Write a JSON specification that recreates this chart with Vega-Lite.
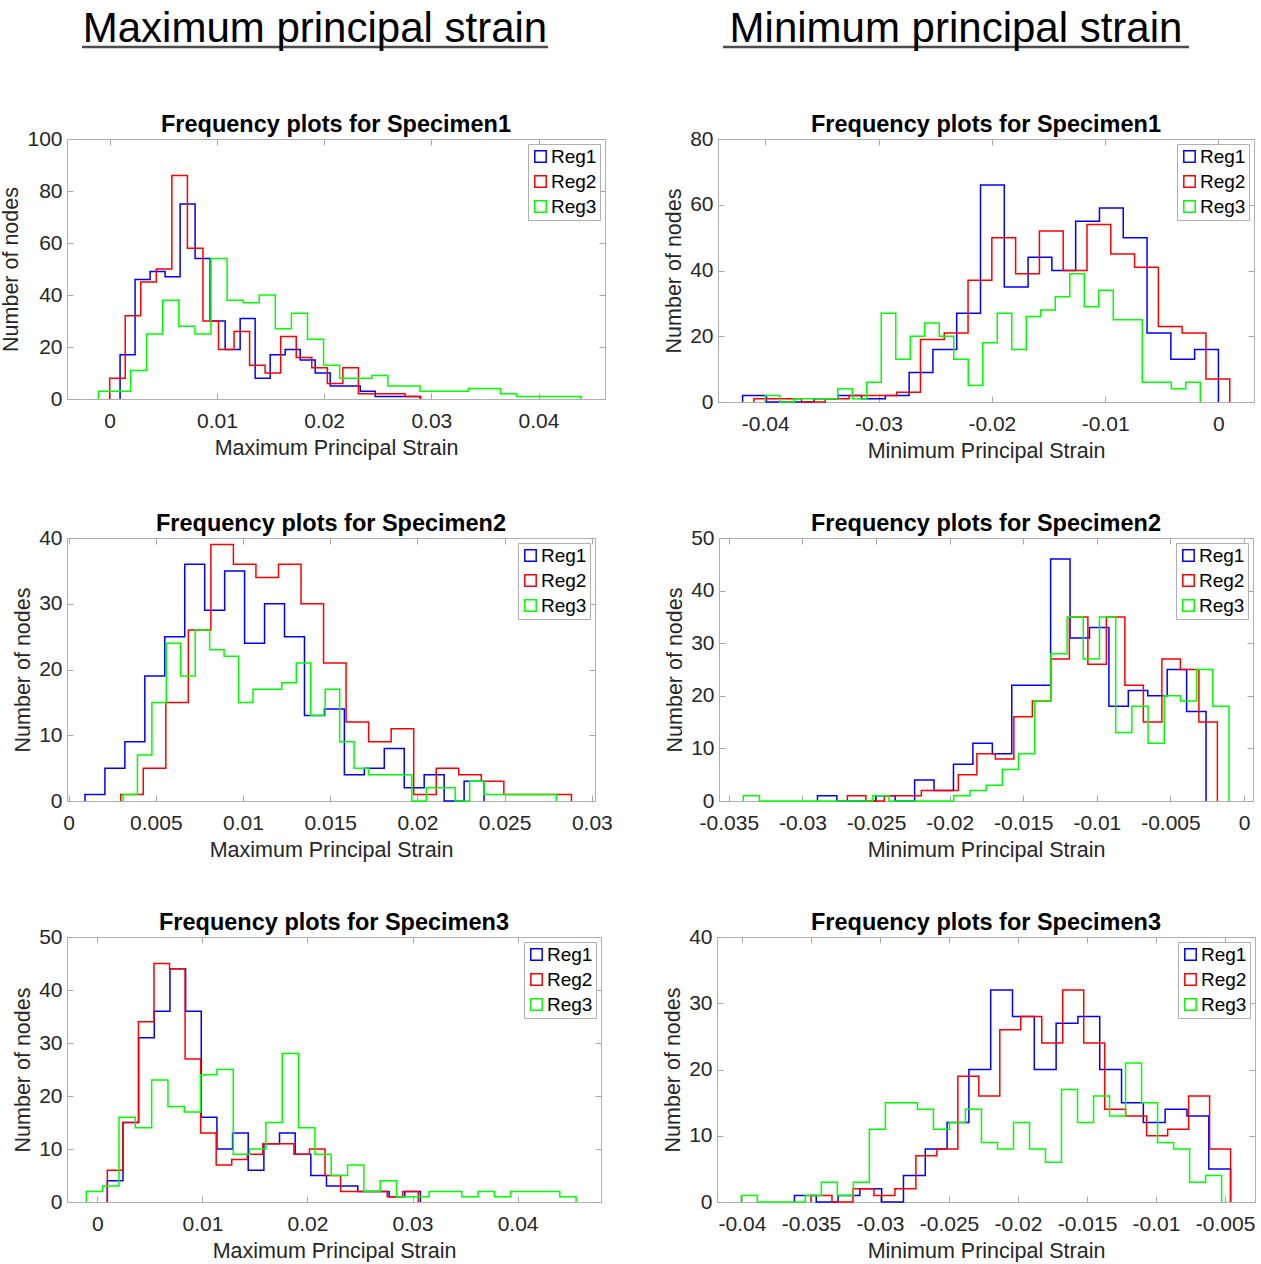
{
"$schema": "https://vega.github.io/schema/vega-lite/v6.json",
"padding": {"left": 0, "top": 0, "right": 0, "bottom": 0},
"background": "white",
"spacing": 49,
"data": {"values": [
{"p":1,"s":"Reg1","x":0.00097,"y":0},{"p":1,"s":"Reg1","x":0.00097,"y":17},{"p":1,"s":"Reg1","x":0.00237,"y":46},{"p":1,"s":"Reg1","x":0.00377,"y":49},{"p":1,"s":"Reg1","x":0.00517,"y":47},{"p":1,"s":"Reg1","x":0.00657,"y":75},{"p":1,"s":"Reg1","x":0.00797,"y":54},{"p":1,"s":"Reg1","x":0.00937,"y":30},{"p":1,"s":"Reg1","x":0.01077,"y":19},{"p":1,"s":"Reg1","x":0.01217,"y":31},{"p":1,"s":"Reg1","x":0.01357,"y":8},{"p":1,"s":"Reg1","x":0.01497,"y":17},{"p":1,"s":"Reg1","x":0.01637,"y":19},{"p":1,"s":"Reg1","x":0.01777,"y":15},{"p":1,"s":"Reg1","x":0.01917,"y":10},{"p":1,"s":"Reg1","x":0.02057,"y":5},{"p":1,"s":"Reg1","x":0.02197,"y":5},{"p":1,"s":"Reg1","x":0.02337,"y":3},{"p":1,"s":"Reg1","x":0.02477,"y":1},{"p":1,"s":"Reg1","x":0.02617,"y":1},{"p":1,"s":"Reg1","x":0.02757,"y":1},{"p":1,"s":"Reg1","x":0.02897,"y":0},
{"p":1,"s":"Reg2","x":0,"y":0},{"p":1,"s":"Reg2","x":0,"y":8},{"p":1,"s":"Reg2","x":0.00145,"y":32},{"p":1,"s":"Reg2","x":0.0029,"y":45},{"p":1,"s":"Reg2","x":0.00435,"y":50},{"p":1,"s":"Reg2","x":0.0058,"y":86},{"p":1,"s":"Reg2","x":0.00725,"y":58},{"p":1,"s":"Reg2","x":0.0087,"y":30},{"p":1,"s":"Reg2","x":0.01015,"y":19},{"p":1,"s":"Reg2","x":0.0116,"y":26},{"p":1,"s":"Reg2","x":0.01305,"y":13},{"p":1,"s":"Reg2","x":0.0145,"y":10},{"p":1,"s":"Reg2","x":0.01595,"y":24},{"p":1,"s":"Reg2","x":0.0174,"y":16},{"p":1,"s":"Reg2","x":0.01885,"y":12},{"p":1,"s":"Reg2","x":0.0203,"y":6},{"p":1,"s":"Reg2","x":0.02175,"y":12},{"p":1,"s":"Reg2","x":0.0232,"y":2},{"p":1,"s":"Reg2","x":0.02465,"y":2},{"p":1,"s":"Reg2","x":0.0261,"y":2},{"p":1,"s":"Reg2","x":0.02755,"y":1},{"p":1,"s":"Reg2","x":0.029,"y":0},
{"p":1,"s":"Reg3","x":-0.00105,"y":0},{"p":1,"s":"Reg3","x":-0.00105,"y":3},{"p":1,"s":"Reg3","x":0.00045,"y":3},{"p":1,"s":"Reg3","x":0.00195,"y":11},{"p":1,"s":"Reg3","x":0.00345,"y":25},{"p":1,"s":"Reg3","x":0.00495,"y":38},{"p":1,"s":"Reg3","x":0.00645,"y":28},{"p":1,"s":"Reg3","x":0.00795,"y":25},{"p":1,"s":"Reg3","x":0.00945,"y":54},{"p":1,"s":"Reg3","x":0.01095,"y":38},{"p":1,"s":"Reg3","x":0.01245,"y":37},{"p":1,"s":"Reg3","x":0.01395,"y":40},{"p":1,"s":"Reg3","x":0.01545,"y":27},{"p":1,"s":"Reg3","x":0.01695,"y":33},{"p":1,"s":"Reg3","x":0.01845,"y":23},{"p":1,"s":"Reg3","x":0.01995,"y":13},{"p":1,"s":"Reg3","x":0.02145,"y":8},{"p":1,"s":"Reg3","x":0.02295,"y":8},{"p":1,"s":"Reg3","x":0.02445,"y":9},{"p":1,"s":"Reg3","x":0.02595,"y":5},{"p":1,"s":"Reg3","x":0.02745,"y":5},{"p":1,"s":"Reg3","x":0.02895,"y":3},{"p":1,"s":"Reg3","x":0.03045,"y":3},{"p":1,"s":"Reg3","x":0.03195,"y":3},{"p":1,"s":"Reg3","x":0.03345,"y":4},{"p":1,"s":"Reg3","x":0.03495,"y":4},{"p":1,"s":"Reg3","x":0.03645,"y":2},{"p":1,"s":"Reg3","x":0.03795,"y":1},{"p":1,"s":"Reg3","x":0.03945,"y":1},{"p":1,"s":"Reg3","x":0.04095,"y":1},{"p":1,"s":"Reg3","x":0.04245,"y":1},{"p":1,"s":"Reg3","x":0.04395,"y":0},
{"p":2,"s":"Reg1","x":-0.042,"y":0},{"p":2,"s":"Reg1","x":-0.042,"y":2},{"p":2,"s":"Reg1","x":-0.0399,"y":0},{"p":2,"s":"Reg1","x":-0.0378,"y":0},{"p":2,"s":"Reg1","x":-0.0357,"y":1},{"p":2,"s":"Reg1","x":-0.0336,"y":2},{"p":2,"s":"Reg1","x":-0.0315,"y":1},{"p":2,"s":"Reg1","x":-0.0294,"y":2},{"p":2,"s":"Reg1","x":-0.0273,"y":9},{"p":2,"s":"Reg1","x":-0.0252,"y":16},{"p":2,"s":"Reg1","x":-0.0231,"y":27},{"p":2,"s":"Reg1","x":-0.021,"y":66},{"p":2,"s":"Reg1","x":-0.0189,"y":35},{"p":2,"s":"Reg1","x":-0.0168,"y":44},{"p":2,"s":"Reg1","x":-0.0147,"y":40},{"p":2,"s":"Reg1","x":-0.0126,"y":55},{"p":2,"s":"Reg1","x":-0.0105,"y":59},{"p":2,"s":"Reg1","x":-0.0084,"y":50},{"p":2,"s":"Reg1","x":-0.0063,"y":21},{"p":2,"s":"Reg1","x":-0.0042,"y":13},{"p":2,"s":"Reg1","x":-0.0021,"y":16},{"p":2,"s":"Reg1","x":0,"y":0},
{"p":2,"s":"Reg2","x":-0.041,"y":0},{"p":2,"s":"Reg2","x":-0.041,"y":1},{"p":2,"s":"Reg2","x":-0.0389,"y":1},{"p":2,"s":"Reg2","x":-0.0368,"y":0},{"p":2,"s":"Reg2","x":-0.0347,"y":1},{"p":2,"s":"Reg2","x":-0.0326,"y":2},{"p":2,"s":"Reg2","x":-0.0305,"y":2},{"p":2,"s":"Reg2","x":-0.0284,"y":3},{"p":2,"s":"Reg2","x":-0.0263,"y":19},{"p":2,"s":"Reg2","x":-0.0242,"y":21},{"p":2,"s":"Reg2","x":-0.0221,"y":37},{"p":2,"s":"Reg2","x":-0.02,"y":50},{"p":2,"s":"Reg2","x":-0.0179,"y":39},{"p":2,"s":"Reg2","x":-0.0158,"y":52},{"p":2,"s":"Reg2","x":-0.0137,"y":40},{"p":2,"s":"Reg2","x":-0.0116,"y":54},{"p":2,"s":"Reg2","x":-0.0095,"y":45},{"p":2,"s":"Reg2","x":-0.0074,"y":41},{"p":2,"s":"Reg2","x":-0.0053,"y":23},{"p":2,"s":"Reg2","x":-0.0032,"y":21},{"p":2,"s":"Reg2","x":-0.0011,"y":7},{"p":2,"s":"Reg2","x":0.001,"y":0},
{"p":2,"s":"Reg3","x":-0.04,"y":0},{"p":2,"s":"Reg3","x":-0.04,"y":2},{"p":2,"s":"Reg3","x":-0.03872,"y":0},{"p":2,"s":"Reg3","x":-0.03744,"y":1},{"p":2,"s":"Reg3","x":-0.03616,"y":1},{"p":2,"s":"Reg3","x":-0.03488,"y":1},{"p":2,"s":"Reg3","x":-0.0336,"y":4},{"p":2,"s":"Reg3","x":-0.03232,"y":1},{"p":2,"s":"Reg3","x":-0.03104,"y":6},{"p":2,"s":"Reg3","x":-0.02976,"y":27},{"p":2,"s":"Reg3","x":-0.02848,"y":13},{"p":2,"s":"Reg3","x":-0.0272,"y":20},{"p":2,"s":"Reg3","x":-0.02592,"y":24},{"p":2,"s":"Reg3","x":-0.02464,"y":20},{"p":2,"s":"Reg3","x":-0.02336,"y":13},{"p":2,"s":"Reg3","x":-0.02208,"y":5},{"p":2,"s":"Reg3","x":-0.0208,"y":18},{"p":2,"s":"Reg3","x":-0.01952,"y":27},{"p":2,"s":"Reg3","x":-0.01824,"y":16},{"p":2,"s":"Reg3","x":-0.01696,"y":26},{"p":2,"s":"Reg3","x":-0.01568,"y":28},{"p":2,"s":"Reg3","x":-0.0144,"y":32},{"p":2,"s":"Reg3","x":-0.01312,"y":39},{"p":2,"s":"Reg3","x":-0.01184,"y":29},{"p":2,"s":"Reg3","x":-0.01056,"y":34},{"p":2,"s":"Reg3","x":-0.00928,"y":25},{"p":2,"s":"Reg3","x":-0.008,"y":25},{"p":2,"s":"Reg3","x":-0.00672,"y":6},{"p":2,"s":"Reg3","x":-0.00544,"y":6},{"p":2,"s":"Reg3","x":-0.00416,"y":4},{"p":2,"s":"Reg3","x":-0.00288,"y":6},{"p":2,"s":"Reg3","x":-0.0016,"y":0},
{"p":3,"s":"Reg1","x":0.00094,"y":0},{"p":3,"s":"Reg1","x":0.00094,"y":1},{"p":3,"s":"Reg1","x":0.002084,"y":5},{"p":3,"s":"Reg1","x":0.003228,"y":9},{"p":3,"s":"Reg1","x":0.004372,"y":19},{"p":3,"s":"Reg1","x":0.005516,"y":25},{"p":3,"s":"Reg1","x":0.00666,"y":36},{"p":3,"s":"Reg1","x":0.007804,"y":29},{"p":3,"s":"Reg1","x":0.008948,"y":35},{"p":3,"s":"Reg1","x":0.010092,"y":24},{"p":3,"s":"Reg1","x":0.011236,"y":30},{"p":3,"s":"Reg1","x":0.01238,"y":25},{"p":3,"s":"Reg1","x":0.013524,"y":13},{"p":3,"s":"Reg1","x":0.014668,"y":14},{"p":3,"s":"Reg1","x":0.015812,"y":4},{"p":3,"s":"Reg1","x":0.016956,"y":5},{"p":3,"s":"Reg1","x":0.0181,"y":8},{"p":3,"s":"Reg1","x":0.019244,"y":2},{"p":3,"s":"Reg1","x":0.020388,"y":4},{"p":3,"s":"Reg1","x":0.021532,"y":0},{"p":3,"s":"Reg1","x":0.022676,"y":3},{"p":3,"s":"Reg1","x":0.02382,"y":0},
{"p":3,"s":"Reg2","x":0.00299,"y":0},{"p":3,"s":"Reg2","x":0.00299,"y":1},{"p":3,"s":"Reg2","x":0.004282,"y":5},{"p":3,"s":"Reg2","x":0.005574,"y":15},{"p":3,"s":"Reg2","x":0.006866,"y":26},{"p":3,"s":"Reg2","x":0.008158,"y":39},{"p":3,"s":"Reg2","x":0.00945,"y":36},{"p":3,"s":"Reg2","x":0.010742,"y":34},{"p":3,"s":"Reg2","x":0.012034,"y":36},{"p":3,"s":"Reg2","x":0.013326,"y":30},{"p":3,"s":"Reg2","x":0.014618,"y":21},{"p":3,"s":"Reg2","x":0.01591,"y":12},{"p":3,"s":"Reg2","x":0.017202,"y":9},{"p":3,"s":"Reg2","x":0.018494,"y":11},{"p":3,"s":"Reg2","x":0.019786,"y":1},{"p":3,"s":"Reg2","x":0.021078,"y":5},{"p":3,"s":"Reg2","x":0.02237,"y":4},{"p":3,"s":"Reg2","x":0.023662,"y":3},{"p":3,"s":"Reg2","x":0.024954,"y":1},{"p":3,"s":"Reg2","x":0.026246,"y":1},{"p":3,"s":"Reg2","x":0.027538,"y":1},{"p":3,"s":"Reg2","x":0.02883,"y":0},
{"p":3,"s":"Reg3","x":0.00312,"y":0},{"p":3,"s":"Reg3","x":0.00312,"y":1},{"p":3,"s":"Reg3","x":0.003948,"y":7},{"p":3,"s":"Reg3","x":0.004776,"y":15},{"p":3,"s":"Reg3","x":0.005604,"y":24},{"p":3,"s":"Reg3","x":0.006432,"y":19},{"p":3,"s":"Reg3","x":0.00726,"y":26},{"p":3,"s":"Reg3","x":0.008088,"y":23},{"p":3,"s":"Reg3","x":0.008916,"y":22},{"p":3,"s":"Reg3","x":0.009744,"y":15},{"p":3,"s":"Reg3","x":0.010572,"y":17},{"p":3,"s":"Reg3","x":0.0114,"y":17},{"p":3,"s":"Reg3","x":0.012228,"y":18},{"p":3,"s":"Reg3","x":0.013056,"y":21},{"p":3,"s":"Reg3","x":0.013884,"y":13},{"p":3,"s":"Reg3","x":0.014712,"y":17},{"p":3,"s":"Reg3","x":0.01554,"y":9},{"p":3,"s":"Reg3","x":0.016368,"y":5},{"p":3,"s":"Reg3","x":0.017196,"y":4},{"p":3,"s":"Reg3","x":0.018024,"y":4},{"p":3,"s":"Reg3","x":0.018852,"y":4},{"p":3,"s":"Reg3","x":0.01968,"y":0},{"p":3,"s":"Reg3","x":0.020508,"y":2},{"p":3,"s":"Reg3","x":0.021336,"y":2},{"p":3,"s":"Reg3","x":0.022164,"y":0},{"p":3,"s":"Reg3","x":0.022992,"y":3},{"p":3,"s":"Reg3","x":0.02382,"y":1},{"p":3,"s":"Reg3","x":0.024648,"y":1},{"p":3,"s":"Reg3","x":0.025476,"y":1},{"p":3,"s":"Reg3","x":0.026304,"y":1},{"p":3,"s":"Reg3","x":0.027132,"y":1},{"p":3,"s":"Reg3","x":0.02796,"y":0},
{"p":4,"s":"Reg1","x":-0.02898,"y":0},{"p":4,"s":"Reg1","x":-0.02898,"y":1},{"p":4,"s":"Reg1","x":-0.02766,"y":0},{"p":4,"s":"Reg1","x":-0.02634,"y":0},{"p":4,"s":"Reg1","x":-0.02502,"y":1},{"p":4,"s":"Reg1","x":-0.0237,"y":0},{"p":4,"s":"Reg1","x":-0.02238,"y":4},{"p":4,"s":"Reg1","x":-0.02106,"y":2},{"p":4,"s":"Reg1","x":-0.01974,"y":7},{"p":4,"s":"Reg1","x":-0.01842,"y":11},{"p":4,"s":"Reg1","x":-0.0171,"y":9},{"p":4,"s":"Reg1","x":-0.01578,"y":22},{"p":4,"s":"Reg1","x":-0.01446,"y":22},{"p":4,"s":"Reg1","x":-0.01314,"y":46},{"p":4,"s":"Reg1","x":-0.01182,"y":31},{"p":4,"s":"Reg1","x":-0.0105,"y":33},{"p":4,"s":"Reg1","x":-0.00918,"y":18},{"p":4,"s":"Reg1","x":-0.00786,"y":21},{"p":4,"s":"Reg1","x":-0.00654,"y":20},{"p":4,"s":"Reg1","x":-0.00522,"y":25},{"p":4,"s":"Reg1","x":-0.0039,"y":17},{"p":4,"s":"Reg1","x":-0.00258,"y":0},
{"p":4,"s":"Reg2","x":-0.02695,"y":0},{"p":4,"s":"Reg2","x":-0.02695,"y":1},{"p":4,"s":"Reg2","x":-0.025693,"y":0},{"p":4,"s":"Reg2","x":-0.024436,"y":1},{"p":4,"s":"Reg2","x":-0.023179,"y":1},{"p":4,"s":"Reg2","x":-0.021922,"y":2},{"p":4,"s":"Reg2","x":-0.020665,"y":2},{"p":4,"s":"Reg2","x":-0.019408,"y":5},{"p":4,"s":"Reg2","x":-0.018151,"y":9},{"p":4,"s":"Reg2","x":-0.016894,"y":8},{"p":4,"s":"Reg2","x":-0.015637,"y":16},{"p":4,"s":"Reg2","x":-0.01438,"y":19},{"p":4,"s":"Reg2","x":-0.013123,"y":27},{"p":4,"s":"Reg2","x":-0.011866,"y":35},{"p":4,"s":"Reg2","x":-0.010609,"y":26},{"p":4,"s":"Reg2","x":-0.009352,"y":35},{"p":4,"s":"Reg2","x":-0.008095,"y":22},{"p":4,"s":"Reg2","x":-0.006838,"y":15},{"p":4,"s":"Reg2","x":-0.005581,"y":27},{"p":4,"s":"Reg2","x":-0.004324,"y":25},{"p":4,"s":"Reg2","x":-0.003067,"y":15},{"p":4,"s":"Reg2","x":-0.00181,"y":0},
{"p":4,"s":"Reg3","x":-0.03402,"y":0},{"p":4,"s":"Reg3","x":-0.03402,"y":1},{"p":4,"s":"Reg3","x":-0.03292,"y":0},{"p":4,"s":"Reg3","x":-0.03182,"y":0},{"p":4,"s":"Reg3","x":-0.03072,"y":0},{"p":4,"s":"Reg3","x":-0.02962,"y":0},{"p":4,"s":"Reg3","x":-0.02852,"y":0},{"p":4,"s":"Reg3","x":-0.02742,"y":0},{"p":4,"s":"Reg3","x":-0.02632,"y":0},{"p":4,"s":"Reg3","x":-0.02522,"y":1},{"p":4,"s":"Reg3","x":-0.02412,"y":0},{"p":4,"s":"Reg3","x":-0.02302,"y":0},{"p":4,"s":"Reg3","x":-0.02192,"y":0},{"p":4,"s":"Reg3","x":-0.02082,"y":0},{"p":4,"s":"Reg3","x":-0.01972,"y":1},{"p":4,"s":"Reg3","x":-0.01862,"y":2},{"p":4,"s":"Reg3","x":-0.01752,"y":3},{"p":4,"s":"Reg3","x":-0.01642,"y":6},{"p":4,"s":"Reg3","x":-0.01532,"y":9},{"p":4,"s":"Reg3","x":-0.01422,"y":19},{"p":4,"s":"Reg3","x":-0.01312,"y":28},{"p":4,"s":"Reg3","x":-0.01202,"y":35},{"p":4,"s":"Reg3","x":-0.01092,"y":27},{"p":4,"s":"Reg3","x":-0.00982,"y":35},{"p":4,"s":"Reg3","x":-0.00872,"y":13},{"p":4,"s":"Reg3","x":-0.00762,"y":18},{"p":4,"s":"Reg3","x":-0.00652,"y":11},{"p":4,"s":"Reg3","x":-0.00542,"y":20},{"p":4,"s":"Reg3","x":-0.00432,"y":19},{"p":4,"s":"Reg3","x":-0.00322,"y":25},{"p":4,"s":"Reg3","x":-0.00212,"y":18},{"p":4,"s":"Reg3","x":-0.00102,"y":0},
{"p":5,"s":"Reg1","x":0.00095,"y":0},{"p":5,"s":"Reg1","x":0.00095,"y":4},{"p":5,"s":"Reg1","x":0.00244,"y":15},{"p":5,"s":"Reg1","x":0.00393,"y":31},{"p":5,"s":"Reg1","x":0.00542,"y":36},{"p":5,"s":"Reg1","x":0.00691,"y":44},{"p":5,"s":"Reg1","x":0.0084,"y":36},{"p":5,"s":"Reg1","x":0.00989,"y":16},{"p":5,"s":"Reg1","x":0.01138,"y":10},{"p":5,"s":"Reg1","x":0.01287,"y":13},{"p":5,"s":"Reg1","x":0.01436,"y":6},{"p":5,"s":"Reg1","x":0.01585,"y":11},{"p":5,"s":"Reg1","x":0.01734,"y":13},{"p":5,"s":"Reg1","x":0.01883,"y":9},{"p":5,"s":"Reg1","x":0.02032,"y":5},{"p":5,"s":"Reg1","x":0.02181,"y":3},{"p":5,"s":"Reg1","x":0.0233,"y":3},{"p":5,"s":"Reg1","x":0.02479,"y":2},{"p":5,"s":"Reg1","x":0.02628,"y":2},{"p":5,"s":"Reg1","x":0.02777,"y":1},{"p":5,"s":"Reg1","x":0.02926,"y":2},{"p":5,"s":"Reg1","x":0.03075,"y":0},
{"p":5,"s":"Reg2","x":0.00095,"y":0},{"p":5,"s":"Reg2","x":0.00095,"y":6},{"p":5,"s":"Reg2","x":0.00243,"y":15},{"p":5,"s":"Reg2","x":0.00391,"y":34},{"p":5,"s":"Reg2","x":0.00539,"y":45},{"p":5,"s":"Reg2","x":0.00687,"y":44},{"p":5,"s":"Reg2","x":0.00835,"y":27},{"p":5,"s":"Reg2","x":0.00983,"y":13},{"p":5,"s":"Reg2","x":0.01131,"y":7},{"p":5,"s":"Reg2","x":0.01279,"y":8},{"p":5,"s":"Reg2","x":0.01427,"y":9},{"p":5,"s":"Reg2","x":0.01575,"y":11},{"p":5,"s":"Reg2","x":0.01723,"y":11},{"p":5,"s":"Reg2","x":0.01871,"y":9},{"p":5,"s":"Reg2","x":0.02019,"y":10},{"p":5,"s":"Reg2","x":0.02167,"y":5},{"p":5,"s":"Reg2","x":0.02315,"y":2},{"p":5,"s":"Reg2","x":0.02463,"y":2},{"p":5,"s":"Reg2","x":0.02611,"y":2},{"p":5,"s":"Reg2","x":0.02759,"y":1},{"p":5,"s":"Reg2","x":0.02907,"y":2},{"p":5,"s":"Reg2","x":0.03055,"y":0},
{"p":5,"s":"Reg3","x":-0.00105,"y":0},{"p":5,"s":"Reg3","x":-0.00105,"y":2},{"p":5,"s":"Reg3","x":0.000504,"y":3},{"p":5,"s":"Reg3","x":0.002058,"y":16},{"p":5,"s":"Reg3","x":0.003612,"y":14},{"p":5,"s":"Reg3","x":0.005166,"y":23},{"p":5,"s":"Reg3","x":0.00672,"y":18},{"p":5,"s":"Reg3","x":0.008274,"y":17},{"p":5,"s":"Reg3","x":0.009828,"y":24},{"p":5,"s":"Reg3","x":0.011382,"y":25},{"p":5,"s":"Reg3","x":0.012936,"y":9},{"p":5,"s":"Reg3","x":0.01449,"y":10},{"p":5,"s":"Reg3","x":0.016044,"y":15},{"p":5,"s":"Reg3","x":0.017598,"y":28},{"p":5,"s":"Reg3","x":0.019152,"y":14},{"p":5,"s":"Reg3","x":0.020706,"y":9},{"p":5,"s":"Reg3","x":0.02226,"y":5},{"p":5,"s":"Reg3","x":0.023814,"y":7},{"p":5,"s":"Reg3","x":0.025368,"y":2},{"p":5,"s":"Reg3","x":0.026922,"y":4},{"p":5,"s":"Reg3","x":0.028476,"y":1},{"p":5,"s":"Reg3","x":0.03003,"y":1},{"p":5,"s":"Reg3","x":0.031584,"y":2},{"p":5,"s":"Reg3","x":0.033138,"y":2},{"p":5,"s":"Reg3","x":0.034692,"y":1},{"p":5,"s":"Reg3","x":0.036246,"y":2},{"p":5,"s":"Reg3","x":0.0378,"y":1},{"p":5,"s":"Reg3","x":0.039354,"y":2},{"p":5,"s":"Reg3","x":0.040908,"y":2},{"p":5,"s":"Reg3","x":0.042462,"y":2},{"p":5,"s":"Reg3","x":0.044016,"y":1},{"p":5,"s":"Reg3","x":0.04557,"y":0},
{"p":6,"s":"Reg1","x":-0.0362,"y":0},{"p":6,"s":"Reg1","x":-0.0362,"y":1},{"p":6,"s":"Reg1","x":-0.03462,"y":0},{"p":6,"s":"Reg1","x":-0.03304,"y":1},{"p":6,"s":"Reg1","x":-0.03146,"y":2},{"p":6,"s":"Reg1","x":-0.02988,"y":0},{"p":6,"s":"Reg1","x":-0.0283,"y":4},{"p":6,"s":"Reg1","x":-0.02672,"y":8},{"p":6,"s":"Reg1","x":-0.02514,"y":12},{"p":6,"s":"Reg1","x":-0.02356,"y":20},{"p":6,"s":"Reg1","x":-0.02198,"y":32},{"p":6,"s":"Reg1","x":-0.0204,"y":28},{"p":6,"s":"Reg1","x":-0.01882,"y":20},{"p":6,"s":"Reg1","x":-0.01724,"y":27},{"p":6,"s":"Reg1","x":-0.01566,"y":28},{"p":6,"s":"Reg1","x":-0.01408,"y":20},{"p":6,"s":"Reg1","x":-0.0125,"y":15},{"p":6,"s":"Reg1","x":-0.01092,"y":12},{"p":6,"s":"Reg1","x":-0.00934,"y":14},{"p":6,"s":"Reg1","x":-0.00776,"y":13},{"p":6,"s":"Reg1","x":-0.00618,"y":5},{"p":6,"s":"Reg1","x":-0.0046,"y":0},
{"p":6,"s":"Reg2","x":-0.035,"y":0},{"p":6,"s":"Reg2","x":-0.035,"y":1},{"p":6,"s":"Reg2","x":-0.03348,"y":0},{"p":6,"s":"Reg2","x":-0.03196,"y":2},{"p":6,"s":"Reg2","x":-0.03044,"y":1},{"p":6,"s":"Reg2","x":-0.02892,"y":2},{"p":6,"s":"Reg2","x":-0.0274,"y":7},{"p":6,"s":"Reg2","x":-0.02588,"y":8},{"p":6,"s":"Reg2","x":-0.02436,"y":19},{"p":6,"s":"Reg2","x":-0.02284,"y":16},{"p":6,"s":"Reg2","x":-0.02132,"y":26},{"p":6,"s":"Reg2","x":-0.0198,"y":28},{"p":6,"s":"Reg2","x":-0.01828,"y":24},{"p":6,"s":"Reg2","x":-0.01676,"y":32},{"p":6,"s":"Reg2","x":-0.01524,"y":24},{"p":6,"s":"Reg2","x":-0.01372,"y":14},{"p":6,"s":"Reg2","x":-0.0122,"y":13},{"p":6,"s":"Reg2","x":-0.01068,"y":10},{"p":6,"s":"Reg2","x":-0.00916,"y":11},{"p":6,"s":"Reg2","x":-0.00764,"y":16},{"p":6,"s":"Reg2","x":-0.00612,"y":8},{"p":6,"s":"Reg2","x":-0.0046,"y":0},
{"p":6,"s":"Reg3","x":-0.04005,"y":0},{"p":6,"s":"Reg3","x":-0.04005,"y":1},{"p":6,"s":"Reg3","x":-0.03889,"y":0},{"p":6,"s":"Reg3","x":-0.03773,"y":0},{"p":6,"s":"Reg3","x":-0.03657,"y":0},{"p":6,"s":"Reg3","x":-0.03541,"y":1},{"p":6,"s":"Reg3","x":-0.03425,"y":3},{"p":6,"s":"Reg3","x":-0.03309,"y":1},{"p":6,"s":"Reg3","x":-0.03193,"y":3},{"p":6,"s":"Reg3","x":-0.03077,"y":11},{"p":6,"s":"Reg3","x":-0.02961,"y":15},{"p":6,"s":"Reg3","x":-0.02845,"y":15},{"p":6,"s":"Reg3","x":-0.02729,"y":14},{"p":6,"s":"Reg3","x":-0.02613,"y":11},{"p":6,"s":"Reg3","x":-0.02497,"y":12},{"p":6,"s":"Reg3","x":-0.02381,"y":14},{"p":6,"s":"Reg3","x":-0.02265,"y":9},{"p":6,"s":"Reg3","x":-0.02149,"y":8},{"p":6,"s":"Reg3","x":-0.02033,"y":12},{"p":6,"s":"Reg3","x":-0.01917,"y":8},{"p":6,"s":"Reg3","x":-0.01801,"y":6},{"p":6,"s":"Reg3","x":-0.01685,"y":17},{"p":6,"s":"Reg3","x":-0.01569,"y":12},{"p":6,"s":"Reg3","x":-0.01453,"y":16},{"p":6,"s":"Reg3","x":-0.01337,"y":13},{"p":6,"s":"Reg3","x":-0.01221,"y":21},{"p":6,"s":"Reg3","x":-0.01105,"y":15},{"p":6,"s":"Reg3","x":-0.00989,"y":9},{"p":6,"s":"Reg3","x":-0.00873,"y":8},{"p":6,"s":"Reg3","x":-0.00757,"y":3},{"p":6,"s":"Reg3","x":-0.00641,"y":4},{"p":6,"s":"Reg3","x":-0.00525,"y":0}
]},
"resolve": {"scale": {"x": "independent", "y": "independent", "color": "independent"}},
"vconcat": [
{
 "width": 1150, "height": 63,
 "data": {"values": [{"h": "Maximum principal strain"}, {"h": "Minimum principal strain"}]},
 "view": {"stroke": null},
 "encoding": {"x": {"field": "h", "type": "nominal", "sort": null, "scale": {"type": "point", "domain": ["Maximum principal strain", "Minimum principal strain"], "range": [248, 889], "padding": 0}, "axis": null}},
 "layer": [
  {"mark": {"type": "text", "fontSize": 42, "font": "Liberation Sans", "baseline": "alphabetic", "align": "center", "color": "#000000"},
   "encoding": {"text": {"field": "h"}, "y": {"datum": 42, "type": "quantitative", "scale": {"domain": [0, 63], "reverse": true, "nice": false}, "axis": null}}},
  {"mark": {"type": "tick", "orient": "horizontal", "thickness": 2.5, "size": 466, "color": "#000000"},
   "encoding": {"y": {"datum": 47, "type": "quantitative", "scale": {"domain": [0, 63], "reverse": true, "nice": false}, "axis": null}}}
 ]
},
{
 "spacing": 57,
 "resolve": {"scale": {"x": "independent", "y": "independent", "color": "independent"}},
 "hconcat": [
  {
   "width": 538, "height": 260,
   "title": "Frequency plots for Specimen1",
   "transform": [{"filter": "datum.p == 1"}],
   "layer": [
    {"mark": {"type": "line", "interpolate": "step-after", "strokeWidth": 1.5},
     "encoding": {
      "x": {"field": "x", "type": "quantitative", "title": "Maximum Principal Strain", "scale": {"domain": [-0.00398, 0.0462], "nice": false, "zero": false}, "axis": {"values": [0, 0.01, 0.02, 0.03, 0.04], "format": "~g"}},
      "y": {"field": "y", "type": "quantitative", "title": "Number of nodes", "scale": {"domain": [0, 100], "nice": false}, "axis": {"values": [0, 20, 40, 60, 80, 100]}},
      "color": {"field": "s", "type": "nominal", "scale": {"domain": ["Reg1", "Reg2", "Reg3"], "range": ["#0000ff", "#ff0000", "#00ff00"]}, "legend": {"title": null}},
      "order": {"value": null}}},
    {"mark": {"type": "point", "opacity": 0},
     "encoding": {
      "x": {"field": "x", "type": "quantitative", "scale": {"domain": [-0.00398, 0.0462], "nice": false, "zero": false}, "axis": {"orient": "top", "labels": false, "title": null, "labelPadding": 0, "minExtent": 0, "maxExtent": 0, "values": [0, 0.01, 0.02, 0.03, 0.04]}},
      "y": {"field": "y", "type": "quantitative", "scale": {"domain": [0, 100], "nice": false}, "axis": {"orient": "right", "labels": false, "title": null, "labelPadding": 0, "minExtent": 0, "maxExtent": 0, "values": [0, 20, 40, 60, 80, 100]}}}}
   ],
   "resolve": {"axis": {"x": "independent", "y": "independent"}}
  },
  {
   "width": 536, "height": 263,
   "title": "Frequency plots for Specimen1",
   "transform": [{"filter": "datum.p == 2"}],
   "layer": [
    {"mark": {"type": "line", "interpolate": "step-after", "strokeWidth": 1.5},
     "encoding": {
      "x": {"field": "x", "type": "quantitative", "title": "Minimum Principal Strain", "scale": {"domain": [-0.04417, 0.00314], "nice": false, "zero": false}, "axis": {"values": [-0.04, -0.03, -0.02, -0.01, 0], "format": "~g"}},
      "y": {"field": "y", "type": "quantitative", "title": "Number of nodes", "scale": {"domain": [0, 80], "nice": false}, "axis": {"values": [0, 20, 40, 60, 80]}},
      "color": {"field": "s", "type": "nominal", "scale": {"domain": ["Reg1", "Reg2", "Reg3"], "range": ["#0000ff", "#ff0000", "#00ff00"]}, "legend": {"title": null}},
      "order": {"value": null}}},
    {"mark": {"type": "point", "opacity": 0},
     "encoding": {
      "x": {"field": "x", "type": "quantitative", "scale": {"domain": [-0.04417, 0.00314], "nice": false, "zero": false}, "axis": {"orient": "top", "labels": false, "title": null, "labelPadding": 0, "minExtent": 0, "maxExtent": 0, "values": [-0.04, -0.03, -0.02, -0.01, 0]}},
      "y": {"field": "y", "type": "quantitative", "scale": {"domain": [0, 80], "nice": false}, "axis": {"orient": "right", "labels": false, "title": null, "labelPadding": 0, "minExtent": 0, "maxExtent": 0, "values": [0, 20, 40, 60, 80]}}}}
   ],
   "resolve": {"axis": {"x": "independent", "y": "independent"}}
  }
 ]
},
{
 "spacing": 51,
 "resolve": {"scale": {"x": "independent", "y": "independent", "color": "independent"}},
 "hconcat": [
  {
   "width": 528, "height": 263,
   "title": "Frequency plots for Specimen2",
   "transform": [{"filter": "datum.p == 3"}],
   "layer": [
    {"mark": {"type": "line", "interpolate": "step-after", "strokeWidth": 1.5},
     "encoding": {
      "x": {"field": "x", "type": "quantitative", "title": "Maximum Principal Strain", "scale": {"domain": [-0.00009, 0.03018], "nice": false, "zero": false}, "axis": {"values": [0, 0.005, 0.01, 0.015, 0.02, 0.025, 0.03], "format": "~g"}},
      "y": {"field": "y", "type": "quantitative", "title": "Number of nodes", "scale": {"domain": [0, 40], "nice": false}, "axis": {"values": [0, 10, 20, 30, 40]}},
      "color": {"field": "s", "type": "nominal", "scale": {"domain": ["Reg1", "Reg2", "Reg3"], "range": ["#0000ff", "#ff0000", "#00ff00"]}, "legend": {"title": null}},
      "order": {"value": null}}},
    {"mark": {"type": "point", "opacity": 0},
     "encoding": {
      "x": {"field": "x", "type": "quantitative", "scale": {"domain": [-0.00009, 0.03018], "nice": false, "zero": false}, "axis": {"orient": "top", "labels": false, "title": null, "labelPadding": 0, "minExtent": 0, "maxExtent": 0, "values": [0, 0.005, 0.01, 0.015, 0.02, 0.025, 0.03]}},
      "y": {"field": "y", "type": "quantitative", "scale": {"domain": [0, 40], "nice": false}, "axis": {"orient": "right", "labels": false, "title": null, "labelPadding": 0, "minExtent": 0, "maxExtent": 0, "values": [0, 10, 20, 30, 40]}}}}
   ],
   "resolve": {"axis": {"x": "independent", "y": "independent"}}
  },
  {
   "width": 534, "height": 263,
   "title": "Frequency plots for Specimen2",
   "transform": [{"filter": "datum.p == 4"}],
   "layer": [
    {"mark": {"type": "line", "interpolate": "step-after", "strokeWidth": 1.5},
     "encoding": {
      "x": {"field": "x", "type": "quantitative", "title": "Minimum Principal Strain", "scale": {"domain": [-0.03567, 0.00061], "nice": false, "zero": false}, "axis": {"values": [-0.035, -0.03, -0.025, -0.02, -0.015, -0.01, -0.005, 0], "format": "~g"}},
      "y": {"field": "y", "type": "quantitative", "title": "Number of nodes", "scale": {"domain": [0, 50], "nice": false}, "axis": {"values": [0, 10, 20, 30, 40, 50]}},
      "color": {"field": "s", "type": "nominal", "scale": {"domain": ["Reg1", "Reg2", "Reg3"], "range": ["#0000ff", "#ff0000", "#00ff00"]}, "legend": {"title": null}},
      "order": {"value": null}}},
    {"mark": {"type": "point", "opacity": 0},
     "encoding": {
      "x": {"field": "x", "type": "quantitative", "scale": {"domain": [-0.03567, 0.00061], "nice": false, "zero": false}, "axis": {"orient": "top", "labels": false, "title": null, "labelPadding": 0, "minExtent": 0, "maxExtent": 0, "values": [-0.035, -0.03, -0.025, -0.02, -0.015, -0.01, -0.005, 0]}},
      "y": {"field": "y", "type": "quantitative", "scale": {"domain": [0, 50], "nice": false}, "axis": {"orient": "right", "labels": false, "title": null, "labelPadding": 0, "minExtent": 0, "maxExtent": 0, "values": [0, 10, 20, 30, 40, 50]}}}}
   ],
   "resolve": {"axis": {"x": "independent", "y": "independent"}}
  }
 ]
},
{
 "spacing": 60,
 "resolve": {"scale": {"x": "independent", "y": "independent", "color": "independent"}},
 "hconcat": [
  {
   "width": 534, "height": 265,
   "title": "Frequency plots for Specimen3",
   "transform": [{"filter": "datum.p == 5"}],
   "layer": [
    {"mark": {"type": "line", "interpolate": "step-after", "strokeWidth": 1.5},
     "encoding": {
      "x": {"field": "x", "type": "quantitative", "title": "Maximum Principal Strain", "scale": {"domain": [-0.00289, 0.04794], "nice": false, "zero": false}, "axis": {"values": [0, 0.01, 0.02, 0.03, 0.04], "format": "~g"}},
      "y": {"field": "y", "type": "quantitative", "title": "Number of nodes", "scale": {"domain": [0, 50], "nice": false}, "axis": {"values": [0, 10, 20, 30, 40, 50]}},
      "color": {"field": "s", "type": "nominal", "scale": {"domain": ["Reg1", "Reg2", "Reg3"], "range": ["#0000ff", "#ff0000", "#00ff00"]}, "legend": {"title": null}},
      "order": {"value": null}}},
    {"mark": {"type": "point", "opacity": 0},
     "encoding": {
      "x": {"field": "x", "type": "quantitative", "scale": {"domain": [-0.00289, 0.04794], "nice": false, "zero": false}, "axis": {"orient": "top", "labels": false, "title": null, "labelPadding": 0, "minExtent": 0, "maxExtent": 0, "values": [0, 0.01, 0.02, 0.03, 0.04]}},
      "y": {"field": "y", "type": "quantitative", "scale": {"domain": [0, 50], "nice": false}, "axis": {"orient": "right", "labels": false, "title": null, "labelPadding": 0, "minExtent": 0, "maxExtent": 0, "values": [0, 10, 20, 30, 40, 50]}}}}
   ],
   "resolve": {"axis": {"x": "independent", "y": "independent"}}
  },
  {
   "width": 538, "height": 265,
   "title": "Frequency plots for Specimen3",
   "transform": [{"filter": "datum.p == 6"}],
   "layer": [
    {"mark": {"type": "line", "interpolate": "step-after", "strokeWidth": 1.5},
     "encoding": {
      "x": {"field": "x", "type": "quantitative", "title": "Minimum Principal Strain", "scale": {"domain": [-0.04181, -0.00283], "nice": false, "zero": false}, "axis": {"values": [-0.04, -0.035, -0.03, -0.025, -0.02, -0.015, -0.01, -0.005], "format": "~g"}},
      "y": {"field": "y", "type": "quantitative", "title": "Number of nodes", "scale": {"domain": [0, 40], "nice": false}, "axis": {"values": [0, 10, 20, 30, 40]}},
      "color": {"field": "s", "type": "nominal", "scale": {"domain": ["Reg1", "Reg2", "Reg3"], "range": ["#0000ff", "#ff0000", "#00ff00"]}, "legend": {"title": null}},
      "order": {"value": null}}},
    {"mark": {"type": "point", "opacity": 0},
     "encoding": {
      "x": {"field": "x", "type": "quantitative", "scale": {"domain": [-0.04181, -0.00283], "nice": false, "zero": false}, "axis": {"orient": "top", "labels": false, "title": null, "labelPadding": 0, "minExtent": 0, "maxExtent": 0, "values": [-0.04, -0.035, -0.03, -0.025, -0.02, -0.015, -0.01, -0.005]}},
      "y": {"field": "y", "type": "quantitative", "scale": {"domain": [0, 40], "nice": false}, "axis": {"orient": "right", "labels": false, "title": null, "labelPadding": 0, "minExtent": 0, "maxExtent": 0, "values": [0, 10, 20, 30, 40]}}}}
   ],
   "resolve": {"axis": {"x": "independent", "y": "independent"}}
  }
 ]
}
],
"config": {
 "font": "Liberation Sans",
 "locale": {"number": {"decimal": ".", "thousands": ",", "grouping": [3], "currency": ["$", ""], "minus": "-"}},
 "view": {"stroke": "#b0b0b0", "strokeWidth": 1},
 "axis": {"grid": false, "domain": false, "ticks": true, "tickSize": -6, "tickColor": "#a8a8a8", "tickWidth": 1, "labelFontSize": 21, "labelColor": "#262626", "labelFlush": false, "labelOverlap": false, "titleFontSize": 21.5, "titleFontWeight": "normal", "titleColor": "#262626"},
 "axisX": {"labelPadding": 17, "titlePadding": 6},
 "axisY": {"labelPadding": 11, "titlePadding": 4},
 "title": {"fontSize": 23.5, "fontWeight": "bold", "color": "#000000", "offset": -8, "frame": "group", "anchor": "middle"},
 "legend": {"orient": "top-right", "offset": 5, "strokeColor": "#b0b0b0", "fillColor": "#ffffff", "padding": 3, "symbolType": "square", "symbolSize": 130, "symbolStrokeWidth": 1.5, "symbolFillColor": "#ffffff", "labelFontSize": 19, "labelColor": "#000000", "labelOffset": 1, "rowPadding": 5}
}
}
